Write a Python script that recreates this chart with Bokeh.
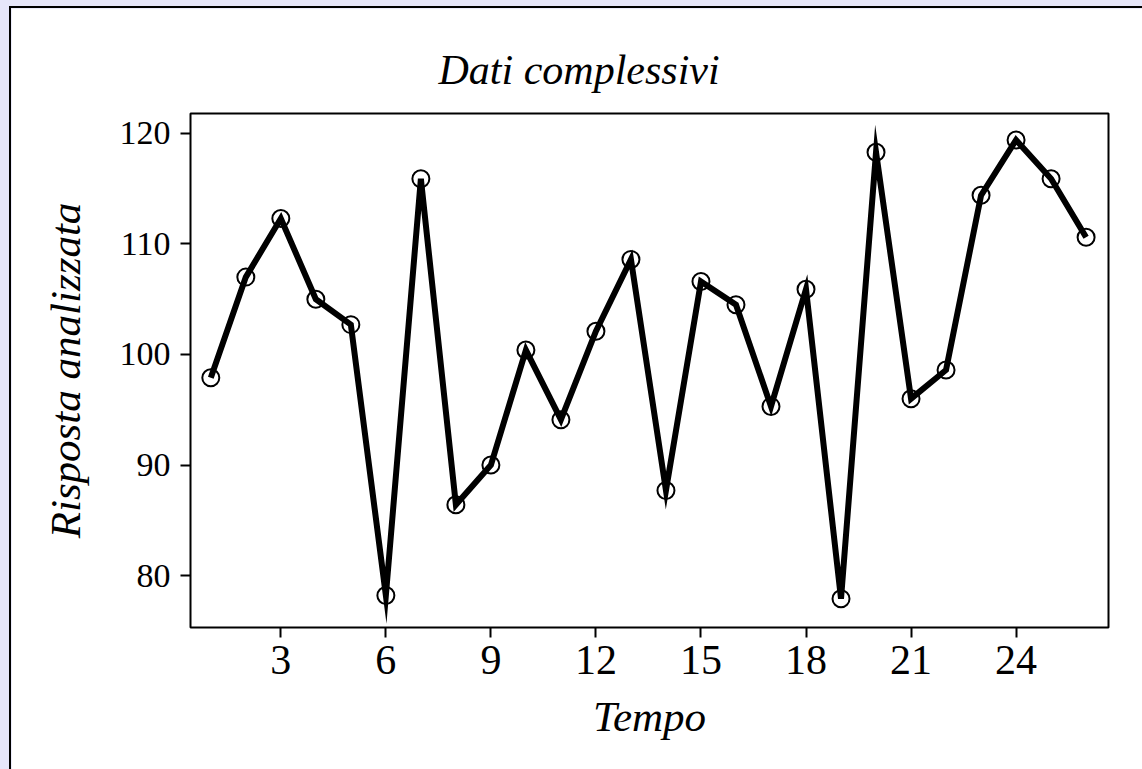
from bokeh.plotting import figure
from bokeh.models import FixedTicker, Range1d
from bokeh.embed import file_html
from bokeh.resources import INLINE
try:
    from bokeh.models import GlobalInlineStyleSheet
except Exception:
    GlobalInlineStyleSheet = None

# ---- data ----
tempo = list(range(1, 27))
risposta = [97.9, 107.0, 112.3, 105.0, 102.7, 78.2, 115.9, 86.4, 90.0, 100.4,
            94.1, 102.1, 108.6, 87.7, 106.6, 104.5, 95.3, 105.9, 77.9, 118.3,
            96.0, 98.6, 114.4, 119.4, 115.9, 110.6]
x_ticks = [3, 6, 9, 12, 15, 18, 21, 24]
y_ticks = [80, 90, 100, 110, 120]
title_text = "Dati complessivi"
x_label = "Tempo"
y_label = "Risposta analizzata"

SERIF = "Liberation Serif"

p = figure(width=1133, height=763, output_backend="svg", toolbar_location=None,
           x_range=Range1d(0.42, 26.64), y_range=Range1d(75.3, 121.8),
           min_border_left=179, min_border_right=36, min_border_top=105,
           min_border_bottom=144)

p.title.text = title_text
p.title.text_font = SERIF
p.title.text_font_style = "italic"
p.title.text_font_size = "42px"
p.title.text_color = "black"
p.title.align = "left"
p.title.offset = 248
p.title.standoff = 42

p.background_fill_color = "white"
p.border_fill_color = "white"
p.outline_line_color = "black"
p.outline_line_width = 2
p.xgrid.visible = False
p.ygrid.visible = False

for ax in (p.xaxis[0], p.yaxis[0]):
    ax.axis_line_color = None
    ax.major_tick_line_color = "black"
    ax.major_tick_line_width = 2
    ax.major_tick_out = 10
    ax.major_tick_in = 0
    ax.minor_tick_line_color = None
    ax.major_label_text_font = SERIF
    ax.major_label_text_color = "black"
    ax.axis_label_text_font = SERIF
    ax.axis_label_text_font_style = "italic"
    ax.axis_label_text_font_size = "43px"
    ax.axis_label_text_color = "black"

p.xaxis.ticker = FixedTicker(ticks=x_ticks)
p.yaxis.ticker = FixedTicker(ticks=y_ticks)
p.xaxis.major_label_text_font_size = "42px"
p.yaxis.major_label_text_font_size = "34px"
p.xaxis.major_label_standoff = 8
p.yaxis.major_label_standoff = 10
p.xaxis.axis_label = x_label
p.yaxis.axis_label = y_label
p.xaxis.axis_label_standoff = 16
p.yaxis.axis_label_standoff = 28

p.line(tempo, risposta, line_color="black", line_width=6, line_join="miter")
p.scatter(tempo, risposta, marker="circle", size=17, fill_color=None,
          line_color="black", line_width=2)

p.styles = {"border-left": "2px solid black", "border-top": "2px solid black"}
if GlobalInlineStyleSheet is not None:
    p.stylesheets = [GlobalInlineStyleSheet(
        css="html, body { background: #E6E6FA; margin: 0; overflow: hidden; } "
            "body { padding: 6px 0 0 9px; }")]

open("out.html", "w").write(file_html(p, INLINE))
